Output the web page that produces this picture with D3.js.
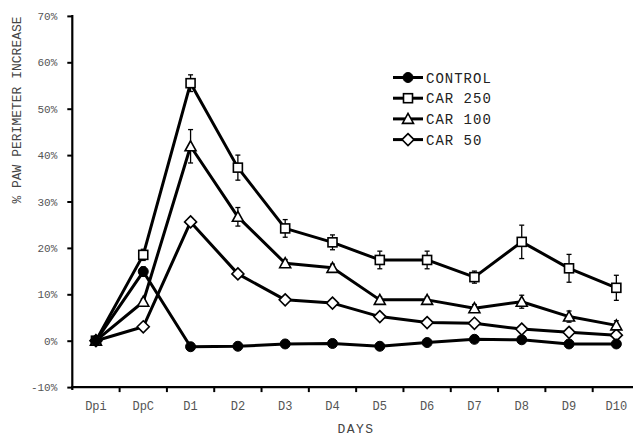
<!DOCTYPE html>
<html>
<head>
<meta charset="utf-8">
<script src="https://cdn.jsdelivr.net/npm/d3@7"></script>
<style>
  body { margin: 0; background: #fff; }
  svg { display: block; }
</style>
</head>
<body>
<svg id="chart" width="633" height="438"></svg>
<script>
// values (% paw perimeter increase)
const days = ["Dpi", "DpC", "D1", "D2", "D3", "D4", "D5", "D6", "D7", "D8", "D9", "D10"];
const control = [0, 14.9, -1.3, -1.2, -0.7, -0.6, -1.2, -0.4, 0.3, 0.2, -0.7, -0.7];
const controlErr = [0, 1.0, 0.5, 0.5, 0.4, 0.4, 0.4, 0.5, 0.4, 0.4, 0.4, 0.4];
const car250 = [0, 18.5, 55.5, 37.3, 24.2, 21.2, 17.4, 17.4, 13.7, 21.3, 15.6, 11.4];
const car250Err = [0, 1.2, 1.8, 2.7, 1.9, 1.6, 1.9, 1.9, 1.3, 3.6, 3.0, 2.7];
const car100 = [0, 8.4, 41.9, 26.7, 16.7, 15.7, 8.8, 8.8, 7.0, 8.4, 5.2, 3.3];
const car100Err = [0, 0.6, 3.6, 2.0, 0.8, 0.8, 0.6, 0.6, 0.8, 1.4, 1.2, 1.0];
const car50 = [0, 3.0, 25.6, 14.4, 8.8, 8.1, 5.2, 3.9, 3.75, 2.5, 1.8, 1.2];
const car50Err = [0, 0.5, 0.8, 0.6, 0.5, 0.5, 0.5, 0.5, 0.5, 0.5, 0.5, 0.5];
const yTicks = [-10, 0, 10, 20, 30, 40, 50, 60, 70];

const series = [
    { name: "CONTROL", values: control, err: controlErr, shape: "circle" },
    { name: "CAR 250", values: car250, err: car250Err, shape: "square" },
    { name: "CAR 100", values: car100, err: car100Err, shape: "triangle" },
    { name: "CAR 50", values: car50, err: car50Err, shape: "diamond" }
];

const svg = d3.select("#chart");
const mono = "'Liberation Mono', 'DejaVu Sans Mono', monospace";

const x = d3.scaleBand().domain(days).range([72.3, 640]).paddingInner(0).paddingOuter(0);
const y = d3.scaleLinear().domain([-10, 70]).range([387.1, 15.9]);
const cx = d => x(d) + x.bandwidth() / 2;

// y axis
const yAxis = svg.append("g")
    .attr("transform", "translate(72.3,0)")
    .call(d3.axisLeft(y).tickValues(yTicks).tickSize(5).tickPadding(10).tickFormat(d => d + "%"));
yAxis.select(".domain").remove();
yAxis.selectAll(".tick line").attr("stroke", "#000").attr("stroke-width", 2);
yAxis.selectAll(".tick text")
    .attr("font-family", mono).attr("font-size", 11).attr("fill", "#555");
svg.append("line")
    .attr("x1", 72.3).attr("x2", 72.3)
    .attr("y1", y(70) - 1).attr("y2", y(-10) + 3)
    .attr("stroke", "#000").attr("stroke-width", 2.2);

// x axis: labels in the middle of each band, ticks on the band edges
const xAxis = svg.append("g")
    .attr("transform", `translate(0,${y(-10)})`)
    .call(d3.axisBottom(x).tickSize(0).tickPadding(14));
xAxis.select(".domain").remove();
xAxis.selectAll(".tick text")
    .attr("font-family", mono).attr("font-size", 12).attr("fill", "#555");
svg.append("line")
    .attr("x1", 71).attr("x2", 633)
    .attr("y1", y(-10)).attr("y2", y(-10))
    .attr("stroke", "#000").attr("stroke-width", 2.2);
svg.selectAll(".xtick")
    .data(days.slice(1))
    .enter().append("line")
    .attr("class", "xtick")
    .attr("x1", d => x(d)).attr("x2", d => x(d))
    .attr("y1", y(-10)).attr("y2", y(-10) + 5)
    .attr("stroke", "#000").attr("stroke-width", 2);

// axis titles
svg.append("text")
    .attr("x", 356).attr("y", 433)
    .attr("text-anchor", "middle")
    .attr("font-family", mono).attr("font-size", 13).attr("letter-spacing", 1.5)
    .attr("fill", "#444")
    .text("DAYS");
svg.append("text")
    .attr("transform", "translate(21,110) rotate(-90)")
    .attr("text-anchor", "middle")
    .attr("font-family", mono).attr("font-size", 13)
    .attr("fill", "#444")
    .text("% PAW PERIMETER INCREASE");

function marker(g, shape) {
    if (shape === "circle") {
        g.append("circle").attr("r", 5).attr("fill", "#000").attr("stroke", "#000");
    } else if (shape === "square") {
        g.append("rect").attr("x", -4.5).attr("y", -4.5).attr("width", 9).attr("height", 9)
            .attr("fill", "#fff").attr("stroke", "#000").attr("stroke-width", 1.6);
    } else if (shape === "triangle") {
        g.append("path").attr("d", "M0,-5.5L5.5,4.5L-5.5,4.5Z")
            .attr("fill", "#fff").attr("stroke", "#000").attr("stroke-width", 1.6);
    } else {
        g.append("path").attr("d", "M0,-6L6,0L0,6L-6,0Z")
            .attr("fill", "#fff").attr("stroke", "#000").attr("stroke-width", 1.6);
    }
}

const line = d3.line()
    .x((d, i) => cx(days[i]))
    .y(d => y(d));

// lines first (control last so it sits on top)
[...series].reverse().forEach(s => {
    svg.append("path")
        .datum(s.values)
        .attr("fill", "none")
        .attr("stroke", "#000")
        .attr("stroke-width", 3)
        .attr("stroke-linejoin", "round")
        .attr("d", line);
});

// error bars
series.forEach(s => {
    const eb = svg.append("g");
    s.values.forEach((v, i) => {
        const e = s.err[i];
        if (!e) return;
        const xc = cx(days[i]);
        eb.append("line").attr("x1", xc).attr("x2", xc)
            .attr("y1", y(v + e)).attr("y2", y(v - e))
            .attr("stroke", "#000").attr("stroke-width", 1.3);
        [v + e, v - e].forEach(t => {
            eb.append("line").attr("x1", xc - 2.5).attr("x2", xc + 2.5)
                .attr("y1", y(t)).attr("y2", y(t))
                .attr("stroke", "#000").attr("stroke-width", 1.3);
        });
    });
});

// markers
[...series].reverse().forEach(s => {
    s.values.forEach((v, i) => {
        const g = svg.append("g").attr("transform", `translate(${cx(days[i])},${y(v)})`);
        marker(g, s.shape);
    });
});

// legend
const legend = svg.append("g");
series.forEach((s, i) => {
    const ly = 77.5 + i * 20.7;
    legend.append("line")
        .attr("x1", 393).attr("x2", 423).attr("y1", ly).attr("y2", ly)
        .attr("stroke", "#000").attr("stroke-width", 3);
    marker(legend.append("g").attr("transform", `translate(408,${ly})`), s.shape);
    legend.append("text")
        .attr("x", 426).attr("y", ly + 5)
        .attr("font-family", mono).attr("font-size", 14).attr("letter-spacing", 1)
        .attr("fill", "#222")
        .text(s.name);
});
</script>
</body>
</html>
